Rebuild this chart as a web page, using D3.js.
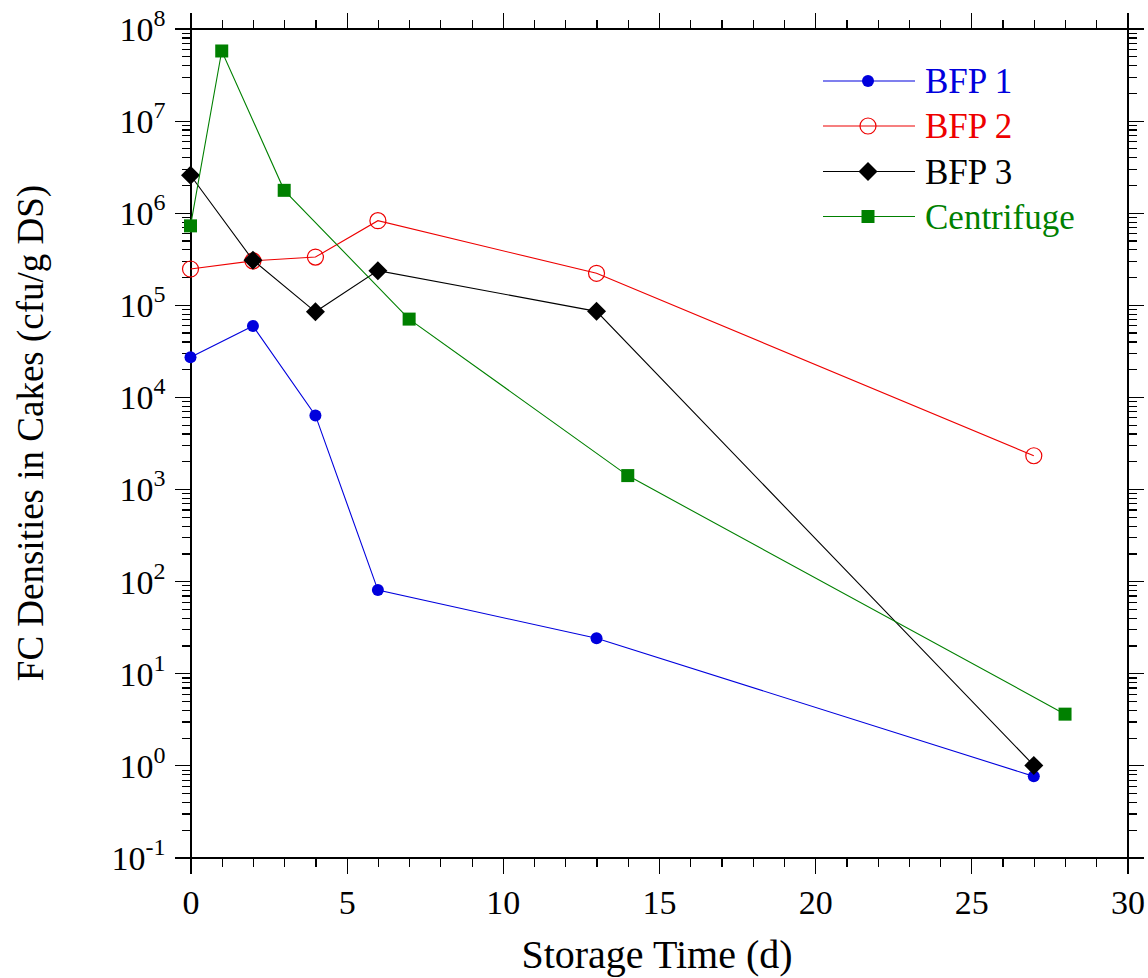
<!DOCTYPE html>
<html>
<head>
<meta charset="utf-8">
<style>
  body { margin: 0; background: #fff; font-family: "Liberation Serif", "Times New Roman", serif; }
  .axis path, .axis line { stroke: #000; stroke-width: 1.2; shape-rendering: crispEdges; }
  .axis text { font-family: "Liberation Serif", serif; font-size: 34px; fill: #000; }
  .axis_title { font-family: "Liberation Serif", serif; fill: #000; }
</style>
</head>
<body>
<script src="https://cdn.jsdelivr.net/npm/d3@7"></script>
<script>
// storage time (d) for each series
var daysBFP = [0, 2, 4, 6, 13, 27];
var daysCentrifuge = [0, 1, 3, 7, 14, 28];

// FC densities (cfu/g DS)
var bfp1 = [2.7e4, 5.9e4, 6.3e3, 80, 24, 0.76];
var bfp2 = [2.45e5, 3.0e5, 3.3e5, 8.2e5, 2.2e5, 2.3e3];
var bfp3 = [2.55e6, 3.05e5, 8.4e4, 2.35e5, 8.5e4, 1.0];
var centrifuge = [7.2e5, 5.7e7, 1.75e6, 7.0e4, 1.4e3, 3.6];

var seriesNames = ["BFP 1", "BFP 2", "BFP 3", "Centrifuge"];
var seriesColors = ["#0000dd", "#ee0000", "#000000", "#008000"];

var xTicks = [0, 5, 10, 15, 20, 25, 30];
var yExponents = [-1, 0, 1, 2, 3, 4, 5, 6, 7, 8];

var margin = {top: 28.5, left: 190.5, right: 20.5, bottom: 120.5},
    width = 1148 - margin.left - margin.right,
    height = 978 - margin.top - margin.bottom;

var svg = d3.select("body").append("svg")
    .attr("width", 1148)
    .attr("height", 978);

var g = svg.append("g")
    .attr("transform", "translate(" + margin.left + "," + margin.top + ")");

var x = d3.scaleLinear().domain([0, 30]).range([0, width]);
var y = d3.scaleLog().domain([0.1, 1e8]).range([height, 0]);

var minorX = d3.range(0, 31).filter(function(d) { return d % 5 !== 0; });
var minorY = [];
yExponents.slice(0, -1).forEach(function(e) {
  for (var k = 2; k <= 9; k++) minorY.push(k * Math.pow(10, e));
});
var majorY = yExponents.map(function(e) { return Math.pow(10, e); });

function addAxis(axis, tx, ty) {
  return g.append("g").attr("class", "axis")
    .attr("transform", "translate(" + tx + "," + ty + ")")
    .call(axis);
}

// minor ticks
addAxis(d3.axisBottom(x).tickValues(minorX).tickSize(9).tickSizeOuter(0).tickFormat(""), 0, height);
addAxis(d3.axisTop(x).tickValues(minorX).tickSize(9).tickSizeOuter(0).tickFormat(""), 0, 0);
addAxis(d3.axisLeft(y).tickValues(minorY).tickSize(9).tickSizeOuter(0).tickFormat(""), 0, 0);
addAxis(d3.axisRight(y).tickValues(minorY).tickSize(9).tickSizeOuter(0).tickFormat(""), width, 0);

// major ticks
var xBottom = addAxis(d3.axisBottom(x).tickValues(xTicks).tickSize(16).tickSizeOuter(0).tickPadding(10), 0, height);
xBottom.selectAll("text").attr("dy", "0.9em");
addAxis(d3.axisTop(x).tickValues(xTicks).tickSize(16).tickSizeOuter(0).tickFormat(""), 0, 0);
var yLeft = addAxis(d3.axisLeft(y).tickValues(majorY).tickSize(16).tickSizeOuter(0).tickFormat(""), 0, 0);
addAxis(d3.axisRight(y).tickValues(majorY).tickSize(16).tickSizeOuter(0).tickFormat(""), width, 0);

yLeft.selectAll(".tick").each(function(d) {
  var t = d3.select(this).append("text")
    .attr("x", -25)
    .attr("dy", "0.35em")
    .attr("text-anchor", "end");
  t.append("tspan").text("10");
  t.append("tspan").attr("dy", -15).style("font-size", "24px").text(String(Math.round(Math.log10(d))));
});

// series
var series = [
  {days: daysBFP, vals: bfp1},
  {days: daysBFP, vals: bfp2},
  {days: daysBFP, vals: bfp3},
  {days: daysCentrifuge, vals: centrifuge}
];

var line = d3.line()
    .x(function(d) { return x(d[0]); })
    .y(function(d) { return y(d[1]); });

function drawMarker(sel, i, cx, cy) {
  var c = seriesColors[i];
  if (i === 0) {
    sel.append("circle").attr("cx", cx).attr("cy", cy).attr("r", 6).attr("fill", c);
  } else if (i === 1) {
    sel.append("circle").attr("cx", cx).attr("cy", cy).attr("r", 8)
      .attr("fill", "none").attr("stroke", c).attr("stroke-width", 1.2);
  } else if (i === 2) {
    var s = 9.5;
    sel.append("path")
      .attr("d", "M" + cx + "," + (cy - s) + "L" + (cx + s) + "," + cy + "L" + cx + "," + (cy + s) + "L" + (cx - s) + "," + cy + "Z")
      .attr("fill", c);
  } else {
    sel.append("rect").attr("x", cx - 6.5).attr("y", cy - 6.5)
      .attr("width", 13).attr("height", 13).attr("fill", c);
  }
}

series.forEach(function(s, i) {
  var pts = s.days.map(function(d, j) { return [d, s.vals[j]]; });
  var sg = g.append("g");
  sg.append("path")
    .datum(pts)
    .attr("d", line)
    .attr("fill", "none")
    .attr("stroke", seriesColors[i])
    .attr("stroke-width", 1.1);
  pts.forEach(function(p) { drawMarker(sg, i, x(p[0]), y(p[1])); });
});

// legend
var legend = svg.append("g");
var legendY = [81, 126, 171.5, 216.5];
seriesNames.forEach(function(name, i) {
  var lg = legend.append("g");
  lg.append("line")
    .attr("x1", 823).attr("x2", 915)
    .attr("y1", legendY[i]).attr("y2", legendY[i])
    .attr("stroke", seriesColors[i]).attr("stroke-width", 1.1);
  drawMarker(lg, i, 868, legendY[i]);
  lg.append("text")
    .attr("x", 925).attr("y", legendY[i])
    .attr("dy", "0.35em")
    .attr("fill", seriesColors[i])
    .style("font-family", "Liberation Serif, serif")
    .style("font-size", "35px")
    .text(name);
});

// axis titles
svg.append("text")
    .attr("class", "axis_title")
    .attr("x", 657).attr("y", 968)
    .attr("text-anchor", "middle")
    .style("font-size", "40px")
    .text("Storage Time (d)");

svg.append("text")
    .attr("class", "axis_title")
    .attr("transform", "translate(43,433) rotate(-90)")
    .attr("text-anchor", "middle")
    .style("font-size", "37px")
    .text("FC Densities in Cakes (cfu/g DS)");
</script>
</body>
</html>
